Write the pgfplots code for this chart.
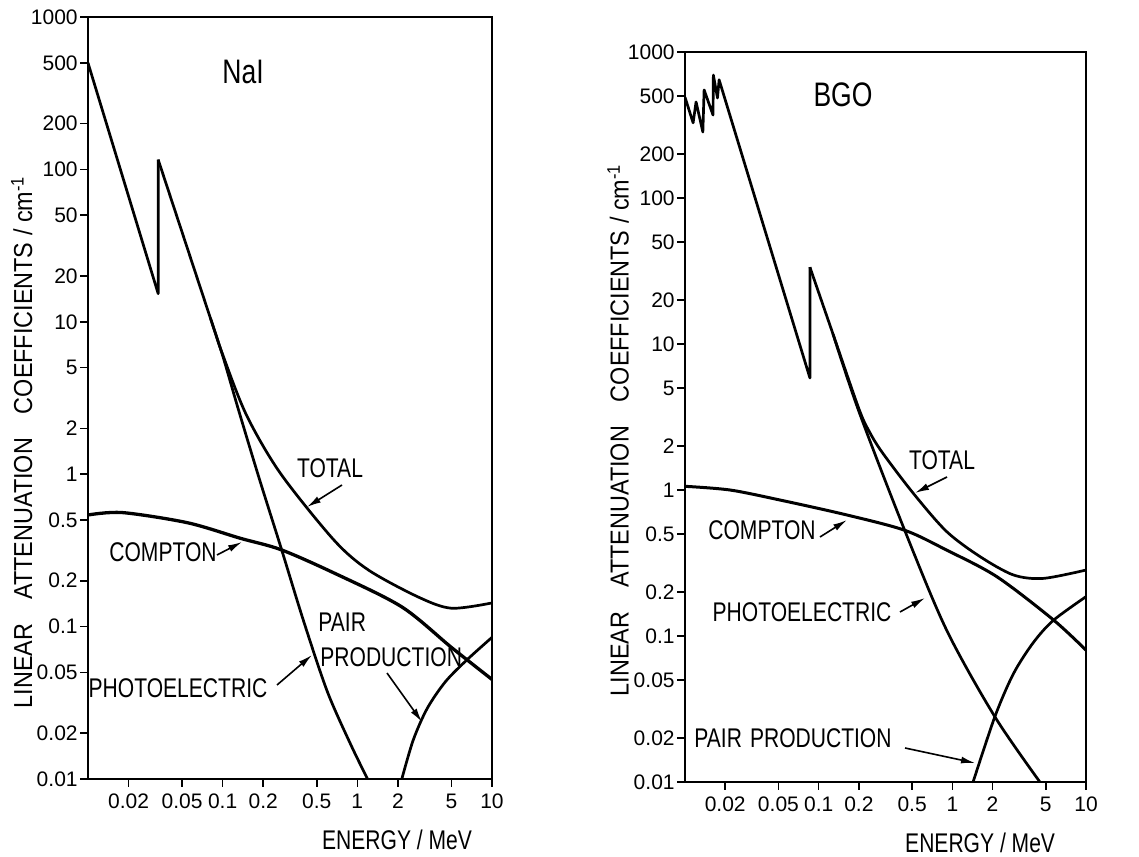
\documentclass[border=0pt]{standalone}
\usepackage{fontspec}
\setmainfont{Liberation Sans}[FakeStretch=0.78]
\newfontfamily\tickfont{Liberation Sans}
\newfontfamily\ylabfont{Liberation Sans}[FakeStretch=0.9]
\usepackage{pgfplots}
\pgfplotsset{compat=1.18}
\usetikzlibrary{arrows.meta}

\pgfplotsset{
  attn/.style={
    scale only axis,
    xmin=0.01, xmax=10, ymin=0.01, ymax=1000,
    xtick={0.02,0.05,0.1,0.2,0.5,1,2,5,10},
    xticklabels={0.02,0.05,0.1,0.2,0.5,1,2,5,10},
    ytick={0.01,0.02,0.05,0.1,0.2,0.5,1,2,5,10,20,50,100,200,500,1000},
    yticklabels={0.01,0.02,0.05,0.1,0.2,0.5,1,2,5,10,20,50,100,200,500,1000},
    xminorticks=false, yminorticks=false,
    tick pos=left, tick align=outside, major tick length=4pt,
    tick style={line width=0.8pt, black},
    axis line style={line width=0.85pt},
    tick label style={font=\tickfont\fontsize{10.5}{12}\selectfont},
    xticklabel style={inner xsep=0.5pt},
    yticklabel style={inner sep=1pt},
    xlabel style={font=\fontsize{13.5}{15}\selectfont},
    ylabel style={font=\ylabfont\fontsize{13}{15}\selectfont},
    ylabel={LINEAR\hspace{12pt}ATTENUATION\hspace{12pt}COEFFICIENTS / cm\textsuperscript{-1}},
    xlabel={ENERGY / MeV},
    anchor=south west,
  },
  curve/.style={black, line width=1.35pt, line join=round},
}
\tikzset{
  lbl/.style={font=\fontsize{13.5}{15}\selectfont, inner sep=0pt},
  ttl/.style={font=\fontsize{17}{19}\selectfont, inner sep=0pt},
  arr/.style={line width=0.8pt, -{Latex[length=7pt,width=3.5pt]}},
}

\begin{document}
\begin{tikzpicture}
% ---- NaI ----
\begin{loglogaxis}[attn, at={(44pt,38.5pt)}, width=202pt, height=381pt,
  ylabel style={at={(axis description cs:-0.164,0.442)}, anchor=center},
  xlabel style={at={(axis description cs:0.765,-0.080)}, anchor=center}]
% total, below and at the K edge
\addplot[curve] coordinates {(0.01,500) (0.0332,15.3) (0.0332,116)};
% total above the edge
\addplot[curve, smooth] coordinates {
  (0.0332,116) (0.081,10.6) (0.1,6.1) (0.15,2.45) (0.267,1.02) (0.67,0.37)
  (1.21,0.235) (2.85,0.156) (5.0,0.132) (10,0.143)};
% photoelectric
\addplot[curve, smooth] coordinates {
  (0.081,10.6) (0.1,6.0) (0.131,2.65) (0.186,0.95) (0.271,0.33) (0.4,0.108)
  (0.6,0.0373) (0.9,0.0166) (1.22,0.0096)};
% compton
\addplot[curve, smooth, line width=1.65pt] coordinates {
  (0.01,0.54) (0.018,0.56) (0.055,0.48) (0.135,0.38) (0.27,0.32) (0.67,0.225)
  (2.13,0.135) (5.0,0.073) (10,0.045)};
% pair production
\addplot[curve, smooth] coordinates {
  (2.14,0.01) (2.6,0.018) (3.3,0.029) (4.5,0.0434) (6.5,0.0604) (10,0.085)};
\end{loglogaxis}

% ---- BGO ----
\begin{loglogaxis}[attn, at={(342.5pt,37pt)}, width=200.5pt, height=365pt,
  ylabel style={at={(axis description cs:-0.167,0.482)}, anchor=center},
  xlabel style={at={(axis description cs:0.736,-0.0836)}, anchor=center}]
% total, L edges and K edge
\addplot[curve] coordinates {
  (0.01,490) (0.0115,327) (0.0121,455) (0.0136,283) (0.0139,550) (0.0162,370)
  (0.0163,695) (0.0175,484) (0.018,645) (0.086,5.85) (0.086,33.6)};
% total above the K edge
\addplot[curve, smooth] coordinates {
  (0.086,33.6) (0.128,11.7) (0.2,3.6) (0.24,2.5) (0.3,1.8) (0.51,0.95)
  (0.905,0.52) (1.61,0.35) (2.86,0.262) (4.78,0.248) (10,0.283)};
% photoelectric
\addplot[curve, smooth] coordinates {
  (0.128,11.7) (0.2,3.45) (0.44,0.53) (0.905,0.11) (2.08,0.028) (4.52,0.01)};
% compton
\addplot[curve, smooth, line width=1.5pt] coordinates {
  (0.01,1.06) (0.0217,1.0) (0.051,0.855) (0.162,0.675) (0.44,0.53) (0.905,0.388)
  (2.15,0.255) (5.7,0.129) (10,0.080)};
% pair production
\addplot[curve, smooth] coordinates {
  (1.43,0.01) (2.08,0.028) (2.86,0.055) (4.03,0.09) (5.7,0.128) (10,0.186)};
\end{loglogaxis}

% ---- labels, NaI ----
\node[ttl] at (121.5pt,392pt) {NaI};
\node[lbl] at (165pt,194pt) {TOTAL};
\draw[arr] (171pt,185.5pt) -- (153.5pt,174.5pt);
\node[lbl] at (81.5pt,152pt) {COMPTON};
\draw[arr] (108.5pt,150.5pt) -- (121pt,157pt);
\node[lbl] at (89pt,84pt) {PHOTOELECTRIC};
\draw[arr] (138.5pt,85.5pt) -- (156pt,100.5pt);
\node[lbl, anchor=west] at (159pt,117pt) {PAIR};
\node[lbl, anchor=west] at (160pt,99.5pt) {PRODUCTION};
\draw[arr] (193.5pt,91.5pt) -- (211pt,67pt);

% ---- labels, BGO ----
\node[ttl] at (421.5pt,380.5pt) {BGO};
\node[lbl] at (471pt,198pt) {TOTAL};
\draw[arr] (473.5pt,189.5pt) -- (457.5pt,181.5pt);
\node[lbl] at (381pt,163pt) {COMPTON};
\draw[arr] (410pt,159.5pt) -- (423.5pt,168pt);
\node[lbl] at (401pt,122pt) {PHOTOELECTRIC};
\draw[arr] (450pt,122pt) -- (462.5pt,129pt);
\node[lbl] at (396.5pt,59pt) {PAIR\hspace{4pt}PRODUCTION};
\draw[arr] (452.5pt,54pt) -- (487.5pt,46.5pt);

\pgfresetboundingbox
\path[use as bounding box] (0pt,0pt) rectangle (569.5pt,428pt);
\end{tikzpicture}
\end{document}
